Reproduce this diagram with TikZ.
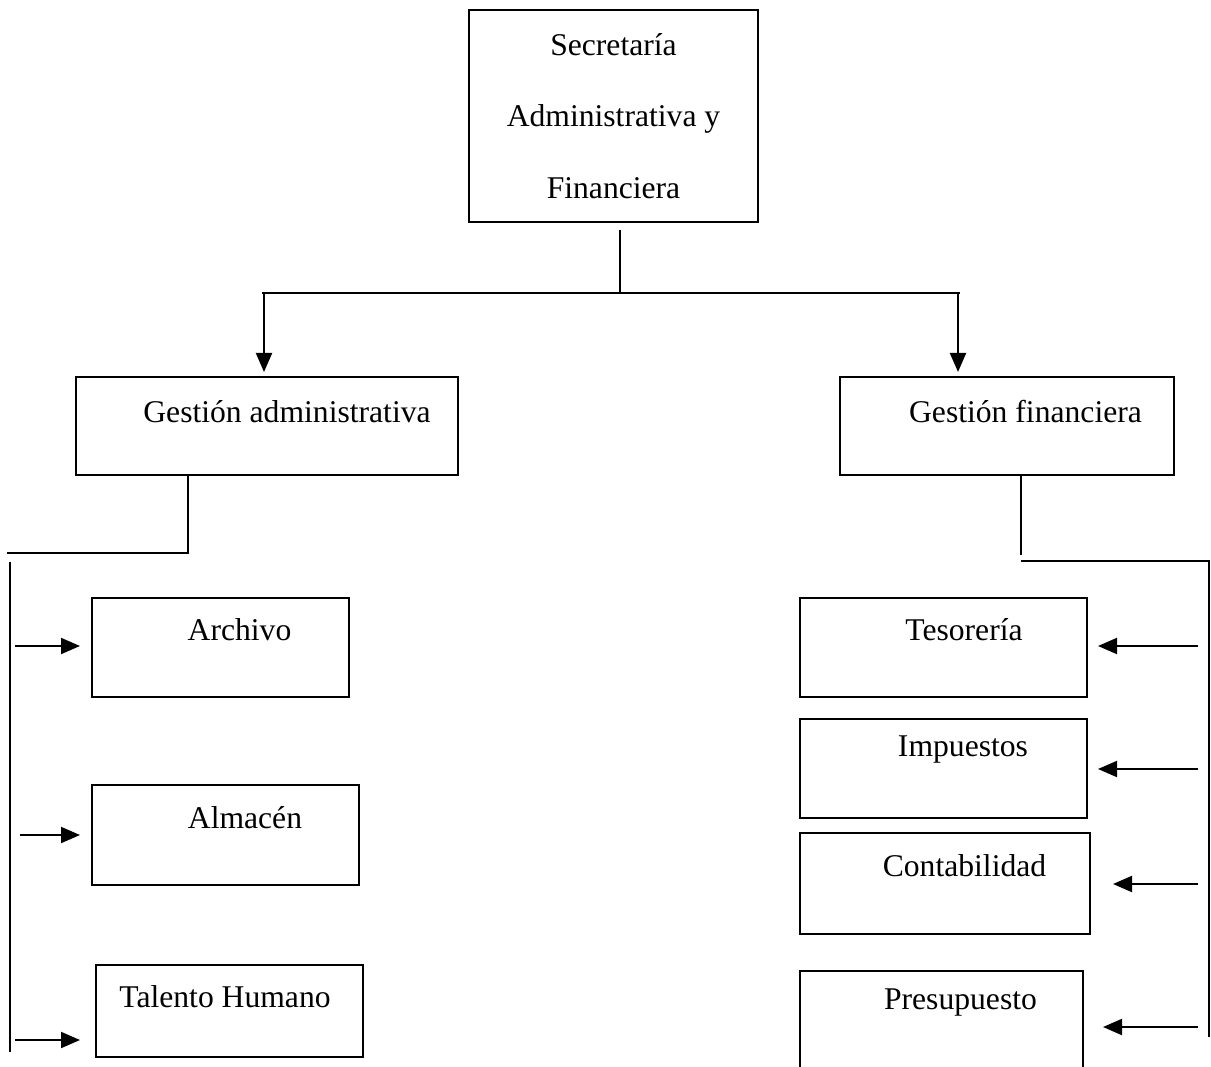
\documentclass[tikz,border=0pt]{standalone}
\usepackage{fontspec}
\setmainfont{Liberation Serif}
\usepackage{tikz}
\usetikzlibrary{positioning, arrows.meta}

\tikzset{
    caja/.style={draw, line width=1pt, inner sep=0pt, outer sep=0pt},
    texto/.style={inner sep=0pt, font=\fontsize{18}{22}\selectfont},
    flecha/.style={line width=1.1pt, -{Triangle[length=0.38cm, width=0.32cm]}},
    linea/.style={line width=1pt}
}

\begin{document}
\begin{tikzpicture}
        \useasboundingbox (0,0) rectangle (24.22,-21.34);
        \clip (0,0) rectangle (24.22,-21.34);

        % cajas
        \node[caja, minimum width=5.78cm, minimum height=4.24cm, align=center,
              font=\fontsize{18}{40.6}\selectfont] (saf) at (12.27,-2.32)
              {Secretaría\\Administrativa y\\Financiera};
        \node[caja, minimum width=7.64cm, minimum height=1.96cm] (ga) at (5.34,-8.52) {};
        \node[caja, minimum width=6.68cm, minimum height=1.96cm] (gf) at (20.14,-8.52) {};

        \node[caja, minimum width=5.14cm, minimum height=1.98cm] (arch) at (4.41,-12.95) {};
        \node[caja, minimum width=5.34cm, minimum height=2cm] (alm) at (4.51,-16.7) {};
        \node[caja, minimum width=5.34cm, minimum height=1.84cm] (th) at (4.59,-20.22) {};

        \node[caja, minimum width=5.74cm, minimum height=1.98cm] (tes) at (18.87,-12.95) {};
        \node[caja, minimum width=5.74cm, minimum height=1.98cm] (imp) at (18.87,-15.37) {};
        \node[caja, minimum width=5.8cm, minimum height=2.02cm] (cont) at (18.9,-17.67) {};
        \node[caja, minimum width=5.66cm, minimum height=2.4cm] (pres) at (18.83,-20.62) {};

        % textos
        \node[texto] (tga) at (5.74,-8.24) {Gestión administrativa};
        \node[texto] (tgf) at (20.51,-8.24) {Gestión financiera};
        \node[texto] (tarch) at (4.79,-12.6) {Archivo};
        \node[texto] (talm) at (4.9,-16.36) {Almacén};
        \node[texto] (tth) at (4.5,-19.94) {Talento Humano};
        \node[texto] (ttes) at (19.28,-12.6) {Tesorería};
        \node[texto] (timp) at (19.26,-15.0) {Impuestos};
        \node[texto] (tcont) at (19.29,-17.32) {Contabilidad};
        \node[texto] (tpres) at (19.21,-20.06) {Presupuesto};

        % puntos auxiliares
        \coordinate (c1) at (12.4,-5.86);
        \coordinate (b1) at (5.24,-5.86);
        \coordinate (b2) at (19.2,-5.86);
        \coordinate (fa) at (5.28,-5.86);
        \coordinate (fb) at (19.16,-5.86);
        \coordinate (i1) at (3.76,-11.06);
        \coordinate (i2) at (0.14,-11.06);
        \coordinate (v1) at (0.2,-11.24);
        \coordinate (v2) at (0.2,-21.04);
        \coordinate (d1) at (20.42,-11.1);
        \coordinate (d2) at (20.42,-11.22);
        \coordinate (d3) at (24.18,-11.22);
        \coordinate (d4) at (24.18,-20.74);

        % lineas de arriba
        \draw[linea] ([yshift=-0.16cm]saf.south -| c1) -- (c1);
        \draw[linea] (b1) -- (b2);
        \draw[flecha, shorten >=0.1cm] (fa) -- (fa |- ga.north);
        \draw[flecha, shorten >=0.1cm] (fb) -- (fb |- gf.north);

        % lado izquierdo
        \draw[linea] (ga.south -| i1) -- (i1) -- (i2);
        \draw[linea] (v1) -- (v2);
        \draw[flecha, shorten >=0.24cm] (0.3,-12.92) -- (arch.west |- 0,-12.92);
        \draw[flecha, shorten >=0.24cm] (0.4,-16.7) -- (alm.west);
        \draw[flecha, shorten >=0.32cm] (0.3,-20.8) -- (th.west |- 0,-20.8);

        % lado derecho
        \draw[linea] (gf.south -| d1) -- (d1);
        \draw[line width=0.8pt] (d2) -- (d3) -- (d4);
        \draw[flecha, shorten >=0.22cm] (23.96,-12.92) -- (tes.east |- 0,-12.92);
        \draw[flecha, shorten >=0.22cm] (23.96,-15.38) -- (imp.east |- 0,-15.38);
        \draw[flecha, shorten >=0.46cm] (23.96,-17.68) -- (cont.east |- 0,-17.68);
        \draw[flecha, shorten >=0.4cm] (23.96,-20.54) -- (pres.east |- 0,-20.54);
    \end{tikzpicture}
\end{document}
